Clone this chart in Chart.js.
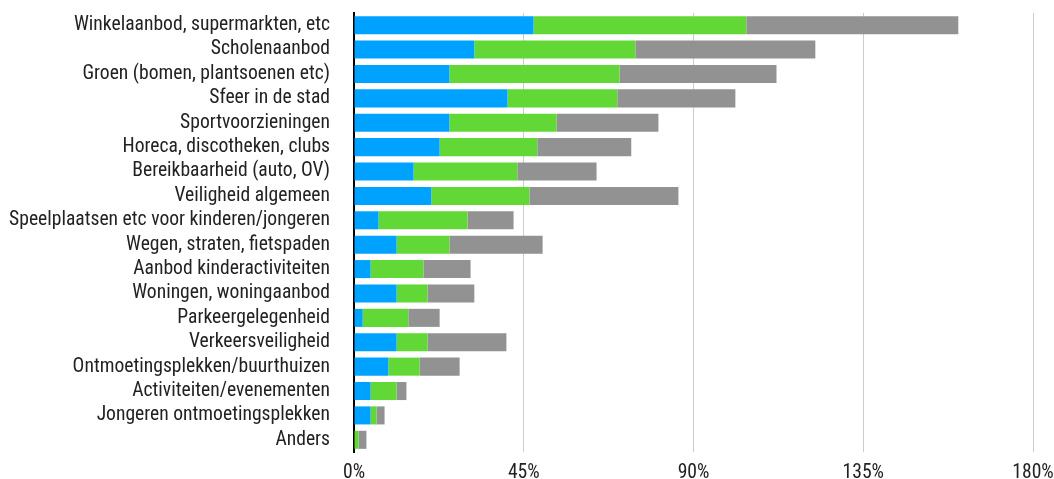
<!DOCTYPE html>
<html>
<head>
<meta charset="utf-8">
<script src="https://cdn.jsdelivr.net/npm/chart.js@4/dist/chart.umd.min.js"></script>
<style>
html,body{margin:0;padding:0;background:#fff;}
#wrap{width:1054px;height:479px;position:relative;}
</style>
</head>
<body>
<div id="wrap"><canvas id="c" width="1054" height="479"></canvas></div>
<script>
const categories = [
  "Winkelaanbod, supermarkten, etc",
  "Scholenaanbod",
  "Groen (bomen, plantsoenen etc)",
  "Sfeer in de stad",
  "Sportvoorzieningen",
  "Horeca, discotheken, clubs",
  "Bereikbaarheid (auto, OV)",
  "Veiligheid algemeen",
  "Speelplaatsen etc voor kinderen/jongeren",
  "Wegen, straten, fietspaden",
  "Aanbod kinderactiviteiten",
  "Woningen, woningaanbod",
  "Parkeergelegenheid",
  "Verkeersveiligheid",
  "Ontmoetingsplekken/buurthuizen",
  "Activiteiten/evenementen",
  "Jongeren ontmoetingsplekken",
  "Anders"
];
const seriesBlue  = [47.6, 31.9, 25.3, 40.7, 25.3, 22.7, 15.8, 20.5, 6.5, 11.3, 4.4, 11.3, 2.3, 11.3, 9.1, 4.4, 4.4, 0];
const seriesGreen = [56.4, 42.7, 45.1, 29.1, 28.4, 25.9, 27.5, 26.0, 23.6, 14.0, 14.0, 8.2, 12.1, 8.2, 8.3, 6.9, 1.6, 1.2];
const seriesGray  = [56.2, 47.7, 41.6, 31.3, 27.0, 24.9, 21.0, 39.5, 12.2, 24.7, 12.5, 12.4, 8.3, 20.9, 10.6, 2.6, 2.1, 2.1];
const xTicks = [0, 45, 90, 135, 180];

const FONT = "'Roboto Condensed', 'Liberation Sans Narrow', 'Arial Narrow', 'DejaVu Sans Condensed', Roboto, sans-serif";

new Chart(document.getElementById('c'), {
  type: 'bar',
  data: {
    labels: categories,
    datasets: [
      { label: 'A', data: seriesBlue,  backgroundColor: '#00A2FF' },
      { label: 'B', data: seriesGreen, backgroundColor: '#61D836' },
      { label: 'C', data: seriesGray,  backgroundColor: '#929292' }
    ]
  },
  options: {
    indexAxis: 'y',
    responsive: false,
    animation: false,
    maintainAspectRatio: false,
    layout: { padding: { top: 13, right: 21, left: 0, bottom: 0 } },
    datasets: { bar: { categoryPercentage: 1, barPercentage: 0.74, borderWidth: 0 } },
    plugins: { legend: { display: false }, tooltip: { enabled: false } },
    scales: {
      x: {
        stacked: true,
        min: 0, max: 180,
        afterBuildTicks: s => { s.ticks = xTicks.map(v => ({ value: v })); },
        afterFit: s => { s.height = 27; s.paddingLeft = 0; s.paddingRight = 0; },
        grid: { color: '#cccccc', lineWidth: 1, drawTicks: false },
        border: { display: false },
        ticks: { padding: 9, color: '#222', font: { family: FONT, size: 19.6 }, callback: v => v + '%' }
      },
      y: {
        stacked: true,
        afterFit: s => { s.width = 354; s.paddingTop = 0; s.paddingBottom = 0; },
        grid: { display: false, drawTicks: false },
        border: { display: true, color: '#000', width: 2 },
        ticks: { padding: 24, color: '#222', autoSkip: false, font: { family: FONT, size: 19.6 } }
      }
    }
  }
});
</script>
</body>
</html>
